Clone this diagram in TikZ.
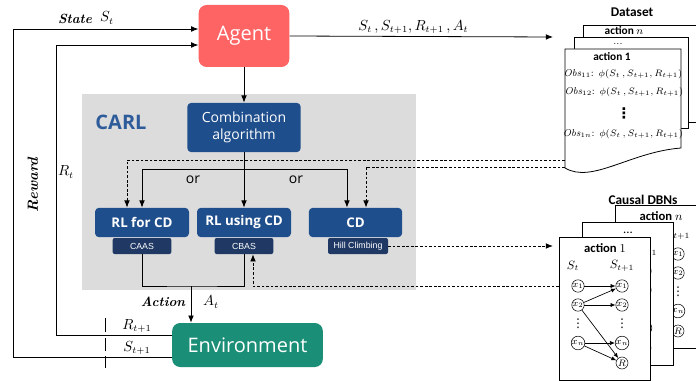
\documentclass[tikz,border=0pt]{standalone}
\usepackage{fontspec}
\usepackage{amsmath}
\usetikzlibrary{arrows.meta}
\newfontfamily\boxfont{Open Sans}
\newfontfamily\tagfont{Liberation Sans}
\newfontfamily\headfont{Carlito}
\newfontfamily\symfont{DejaVu Sans}
\definecolor{agentred}{HTML}{FF6464}
\definecolor{envgreen}{HTML}{1A8E76}
\definecolor{carlblue}{HTML}{1F4E8C}
\definecolor{tagnavy}{HTML}{1F3864}
\definecolor{carlgray}{HTML}{DCDCDC}
\definecolor{carltext}{HTML}{2E5C9A}
\tikzset{
  arr/.style     = {-{Latex[length=1.9mm,width=1.5mm]},line width=0.6pt},
  darr/.style    = {arr,dash pattern=on 2pt off 1.4pt},
  sarr/.style    = {-{Latex[length=1.3mm,width=1.1mm]},line width=0.5pt},
  bluebox/.style = {fill=carlblue,rounded corners=3pt,text=white,align=center,inner sep=0pt},
  tagbox/.style  = {fill=tagnavy,rounded corners=1.5pt,text=white,inner sep=0pt,
                    minimum height=12pt,font=\tagfont\fontsize{6.6}{7}\selectfont},
  sheet/.style   = {draw,fill=white,line width=0.6pt},
  dbnvar/.style  = {circle,draw,fill=white,inner sep=0pt,minimum size=9pt,font=\scriptsize},
  hidvar/.style  = {circle,inner sep=0pt,minimum size=9pt},
  vdot/.style    = {inner sep=0pt,font=\symfont\fontsize{9}{10}\selectfont},
  mlab/.style    = {inner sep=1pt,font=\fontsize{10.5}{12}\selectfont},
  blab/.style    = {inner sep=1pt,font=\fontsize{10}{12}\selectfont\bfseries\itshape},
  headlab/.style = {inner sep=1pt,font=\headfont\bfseries\fontsize{10}{12}\selectfont}
}
\newcommand{\dbnshow}[1]{#1}
\newcommand{\dbnhide}[1]{}
% one page of the causal DBN stack (#5: show or hide the covered left column)
\newcommand{\dbnpage}[6]{%
  \begin{scope}[shift={(#2,#3)}]
    \node[sheet,anchor=north west,minimum width=68.25pt,minimum height=107.25pt] (#1) at (0,0) {};
    \node[inner sep=1pt,font=\headfont\fontsize{9.5}{11}\selectfont] (#1t) at (46,11) {#4};
    #5{\node[inner sep=0pt,font=\small] (#1sa) at (14,29) {$S_t$};}
    \node[inner sep=0pt,font=\small] (#1sb) at (63,29) {$S_{t+1}$};
    \node[#6] (#1a1) at (19,49) {#5{$x_1$}};
    \node[#6] (#1a2) at (19,68) {#5{$x_2$}};
    #5{\node[vdot] (#1ad) at (19,87) {⋮};}
    \node[#6] (#1an) at (19,106) {#5{$x_n$}};
    \node[dbnvar] (#1b1) at (63,49) {$x_1$};
    \node[dbnvar] (#1b2) at (63,68) {$x_2$};
    \node[vdot] (#1bd) at (63,87) {⋮};
    \node[dbnvar] (#1bn) at (63,106) {$x_n$};
    \node[dbnvar] (#1br) at (63,126) {$R$};
    \draw[sarr] (#1a1) -- (#1b1);
    \draw[sarr] (#1a2) -- (#1b1);
    \draw[sarr] (#1a2) -- (#1b2);
    \draw[sarr] (#1a2) -- (#1br);
    \draw[sarr] (#1an) -- (#1bn);
    \draw[sarr] (#1an) -- (#1br);
  \end{scope}}

\begin{document}
\begin{tikzpicture}[x=0.75pt,y=-0.75pt]
  \useasboundingbox (0,0) rectangle (696,381);

  % CARL block
  \node[fill=carlgray,minimum width=250.5pt,minimum height=147pt,inner sep=0pt] (carl) at (249,192) {};
  \node[text=carltext,font=\boxfont\bfseries\fontsize{15}{17}\selectfont] (carlname) at (121,122) {CARL};

  \node[fill=agentred,rounded corners=6pt,minimum width=68pt,minimum height=46.5pt,
        text=white,font=\boxfont\fontsize{15}{17}\selectfont] (agent) at (244,36) {Agent};
  \node[fill=envgreen,rounded corners=6pt,minimum width=113pt,minimum height=33pt,
        text=white,font=\boxfont\fontsize{15}{17}\selectfont] (env) at (247.5,345) {Environment};

  \node[bluebox,minimum width=85pt,minimum height=37pt,font=\boxfont\fontsize{10.5}{13}\selectfont]
        (comb) at (244,127.5) {Combination\\algorithm};
  \node[bluebox,minimum width=70.5pt,minimum height=22pt,font=\boxfont\bfseries\fontsize{10}{12}\selectfont]
        (rlf) at (142,222.5) {RL for CD};
  \node[bluebox,minimum width=70.5pt,minimum height=22pt,font=\boxfont\bfseries\fontsize{10}{12}\selectfont]
        (rlu) at (244,222.5) {RL using CD};
  \node[bluebox,minimum width=70pt,minimum height=22pt,font=\boxfont\bfseries\fontsize{10}{12}\selectfont]
        (cd) at (355.5,222.5) {CD};
  \node[tagbox,minimum width=44pt] (caas) at (142,246) {CAAS};
  \node[tagbox,minimum width=44pt] (cbas) at (244,246) {CBAS};
  \node[tagbox,minimum width=45pt] (hc) at (358,246) {Hill Climbing};

  % Dataset stack
  \draw[sheet] (583,25) rectangle (705,122);
  \draw[sheet] (574,37) rectangle (688,128);
  \draw[sheet] (565,49) -- (681,49) -- (681,148)
       .. controls (630,152) and (592,184) .. (565,168) -- cycle;
  \node[headlab] (dstitle) at (632,12) {Dataset};
  \node[inner sep=0pt,font=\headfont\bfseries\fontsize{8.5}{10}\selectfont] (dsn) at (624,31) {action $n$};
  \node[inner sep=0pt,font=\scriptsize] (dsdots) at (618,44) {...};
  \node[inner sep=0pt,font=\headfont\bfseries\fontsize{8.5}{10}\selectfont] (ds1) at (612,57) {action 1};
  \node[inner sep=0pt,font=\fontsize{7.5}{9}\selectfont] (obsa) at (623,74) {$\mathit{Obs}_{11}$: $\phi(S_t\,,S_{t+1},R_{t+1})$};
  \node[inner sep=0pt,font=\fontsize{7.5}{9}\selectfont] (obsb) at (624,92) {$\mathit{Obs}_{12}$: $\phi(S_t\,,S_{t+1},R_{t+1})$};
  \node[vdot,font=\symfont\bfseries\fontsize{11}{12}\selectfont] (obsd) at (624,113) {⋮};
  \node[inner sep=0pt,font=\fontsize{7.5}{9}\selectfont] (obsn) at (623,134) {$\mathit{Obs}_{1n}$: $\phi(S_t\,,S_{t+1},R_{t+1})$};
  \coordinate (dsin) at (553,37);
  \coordinate (dsa) at (565,160);
  \coordinate (dsb) at (565,167);

  % Causal DBN stack
  \node[headlab] (dbntitle) at (643,200) {Causal DBNs};
  \dbnpage{dbnn}{615}{205}{\bfseries action $n$}{\dbnhide}{hidvar}
  \dbnpage{dbnm}{582}{222}{...}{\dbnhide}{hidvar}
  \dbnpage{dbna}{559}{237}{\bfseries action {\mdseries$1$}}{\dbnshow}{dbnvar}

  % agent loop
  \draw[arr] ([yshift=-9pt]env.west) -- ++(-159,0) |- ([yshift=5.25pt]agent.west);
  \draw[arr] ([yshift=7.5pt]env.west) -- ++(-116,0) |- ([yshift=-6.75pt]agent.west);
  \draw[line width=0.6pt] (105,318) -- (105,332) (105,338) -- (105,351) (105,356) -- (105,368);
  \node[blab] (statelab) at (75,19) {State};
  \node[mlab] (stlab) at (107,18) {$S_t$};
  \node[blab,rotate=90,font=\fontsize{11}{12}\selectfont\bfseries\itshape] (rewardlab) at (33,185) {Reward};
  \node[mlab] (rtlab) at (66,172) {$R_t$};
  \node[mlab] (rnlab) at (137,326) {$R_{t+1}$};
  \node[mlab] (snlab) at (137,348) {$S_{t+1}$};

  \draw[arr] (agent.east) -- (dsin)
        node[mlab,pos=0.47,above=1pt] (tuplelab) {$S_t\,,S_{t+1},R_{t+1}\,,A_t$};
  \draw[arr] (agent.south) -- (comb.north);

  % choice of algorithm
  \coordinate (split) at (244,169);
  \draw[arr] (comb.south) -- (rlu.north);
  \draw[arr] (split) -| (rlf.north);
  \draw[arr] (split) -| ([xshift=-6.4pt]cd.north);
  \node[inner sep=0pt,font=\boxfont\fontsize{10.5}{12}\selectfont] (ora) at (193,180) {or};
  \node[inner sep=0pt,font=\boxfont\fontsize{10.5}{12}\selectfont] (orb) at (296,180) {or};

  % data feeding back
  \draw[darr] (dsa) -| ([xshift=-11.25pt]rlf.north);
  \draw[darr] (dsb) -| ([xshift=7.9pt]cd.north);
  \draw[darr] (hc.east) -- ([xshift=-4.5pt]dbna.west |- hc.east);
  \draw[darr] (dbna.west |- 0,286) -| ([xshift=6.75pt]cbas.south);

  % action
  \coordinate (act) at (191,286);
  \draw[line width=0.6pt] (caas.south) |- (act) -| (cbas.south);
  \draw[arr] (act) -- (act |- env.north);
  \node[blab] (actionlab) at (163,302) {Action};
  \node[mlab] (atlab) at (211,302) {$A_t$};
\end{tikzpicture}
\end{document}
